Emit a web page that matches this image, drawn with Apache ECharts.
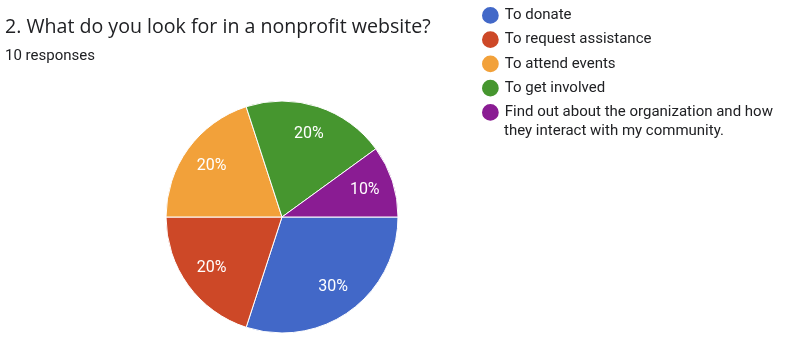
<!DOCTYPE html>
<html>
<head>
<meta charset="utf-8">
<script src="https://cdn.jsdelivr.net/npm/echarts@6/dist/echarts.min.js"></script>
<style>
  html, body { margin: 0; padding: 0; background: #fff; }
  #chart { width: 794px; height: 352px; }
</style>
</head>
<body>
<div id="chart"></div>
<script>
// Google Forms style pie: answers to "what do you look for in a nonprofit website"
const answers = [
  'To donate',
  'To request assistance',
  'To attend events',
  'To get involved',
  'Find out about the organization and how they interact with my community.',
];
const responses = [3, 2, 2, 2, 1];
const colors = ['#4268C8', '#CD4827', '#F2A13A', '#46962F', '#8A1C93'];

const FONT = 'Roboto, "Noto Sans", sans-serif';
const INK = '#202124';
const chart = echarts.init(document.getElementById('chart'));

const data = answers.map((name, i) => ({ name, value: responses[i] }));
const LONG = answers[4];

chart.setOption({
  backgroundColor: '#fff',
  animation: false,
  color: colors,
  title: {
    text: '2. What do you look for in a nonprofit website?',
    subtext: '10 responses',
    left: 0, top: 12, itemGap: 12,
    textStyle: { fontFamily: '"Open Sans", sans-serif', fontSize: 19.6, fontWeight: 'normal', color: INK },
    subtextStyle: { fontFamily: FONT, fontSize: 15, color: INK },
  },
  legend: {
    orient: 'vertical',
    left: 480, top: 5, padding: 0,
    icon: 'circle',
    itemWidth: 18.75, itemHeight: 18.75, itemGap: 3.5,
    textStyle: { fontFamily: FONT, fontSize: 15, color: INK, lineHeight: 20 },
    // long answer: first line here, second line as graphic text below
    formatter: n => n === LONG ? 'Find out about the organization and how' : n,
    data: answers,
  },
  graphic: [{
    type: 'text', left: 504, top: 124, silent: true,
    style: { text: 'they interact with my community.', fill: INK, font: '15px ' + FONT },
  }],
  series: [{
    type: 'pie',
    center: [282, 217],
    radius: [0, 116],
    startAngle: 0,
    clockwise: true,
    silent: true,
    itemStyle: { borderColor: '#fff', borderWidth: 1 },
    label: { show: false },
    labelLine: { show: false },
    data,
  }, {
    // transparent twin pie, only to put the % labels further out than 'inside' would
    type: 'pie',
    center: [282, 217],
    radius: [0, 168],
    startAngle: 0,
    clockwise: true,
    silent: true,
    legendHoverLink: false,
    itemStyle: { color: 'transparent', borderWidth: 0 },
    label: {
      show: true, position: 'inside',
      formatter: p => Math.round(p.percent) + '%',
      color: '#fff', fontFamily: FONT, fontSize: 16,
    },
    labelLine: { show: false },
    data,
  }],
});
</script>
</body>
</html>
